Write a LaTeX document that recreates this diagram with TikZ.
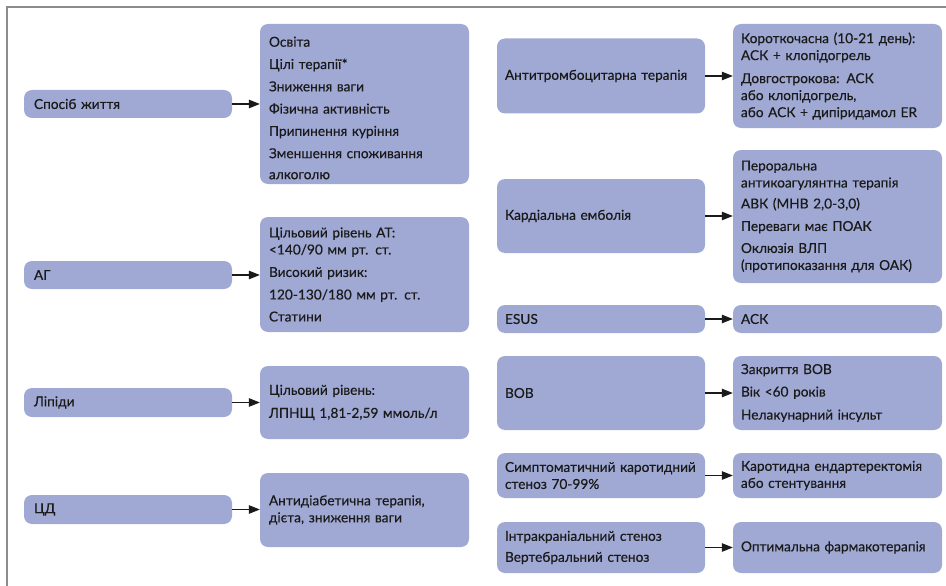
\documentclass[tikz,border=0pt]{standalone}
\usepackage{fontspec}
\setmainfont{Lato}
\newfontfamily\boxfont{Lato}[FakeBold=0.35]
\usetikzlibrary{arrows.meta}
\definecolor{boxfill}{HTML}{9FA9D4}
\definecolor{framegray}{HTML}{8C8C8C}
\definecolor{txt}{HTML}{1A1A1A}
\begin{document}
\begin{tikzpicture}[x=1pt,y=-1pt,
  box/.style={draw=none, fill=boxfill, rounded corners=8pt, inner xsep=8pt, inner ysep=0pt,
    text=txt, align=left, font=\boxfont\fontsize{13.7}{17}\selectfont},
  lbox/.style={box, minimum width=208pt, text width=192pt},
  rbox/.style={box, minimum width=209pt, text width=193pt},
  conn/.style={draw=txt, line width=1.1pt, -{Triangle[length=11pt,width=8.5pt]}}
]
\useasboundingbox (0,0) rectangle (946,586);
\draw[framegray, line width=2pt] (7,587) -- (7,7) -- (947,7);

% left column
\node[lbox, minimum height=28pt, inner xsep=10pt, text width=188pt] (l1) at (128,104) {Спосіб життя};
\node[rbox, minimum height=160pt, inner xsep=9pt, text width=191pt] (r1) at (364.5,104) {\rule{0pt}{18pt}Освіта\\[5.3pt]Цілі терапії*\\[5.3pt]Зниження ваги\\[5.3pt]Фізична активність\\[5.3pt]Припинення куріння\\[5.3pt]Зменшення споживання\\[4pt]алкоголю};
\node[lbox, minimum height=28pt, inner xsep=10pt, text width=188pt] (l2) at (128,275) {АГ};
\node[rbox, minimum height=115pt, inner xsep=9pt, text width=191pt] (r2) at (364.5,274.5) {Цільовий рівень АТ:\\ <140/90 мм рт. ст.\\[5.5pt]Високий ризик:\\[5.5pt]120-130/180 мм рт. ст.\\[5pt]Статини};
\node[lbox, minimum height=29pt, inner xsep=10pt, text width=188pt] (l3) at (128,402.5) {Ліпіди};
\node[rbox, minimum height=73pt, inner xsep=9pt, text width=191pt] (r3) at (364.5,402.5) {Цільовий рівень:\\[6pt]ЛПНЩ 1,81-2,59 ммоль/л};
\node[lbox, minimum height=29pt, inner xsep=10pt, text width=188pt] (l4) at (128,509.5) {ЦД};
\node[rbox, minimum height=74pt, inner xsep=9pt, text width=191pt] (r4) at (364.5,510) {Антидіабетична терапія,\\ дієта, зниження ваги};

% right column
\node[lbox, minimum height=75pt] (a1) at (601,76) {Антитромбоцитарна терапія};
\node[rbox, minimum height=104pt] (a2) at (837.5,76) {Короткочасна (10-21 день):\\ АСК + клопідогрель\\[6pt]Довгострокова: АСК\\ або клопідогрель,\\ або АСК + дипіридамол ER};
\node[lbox, minimum height=74pt] (b1) at (601,216) {Кардіальна емболія};
\node[rbox, minimum height=133pt] (b2) at (837.5,216.5) {Пероральна\\ антикоагулянтна терапія\\[4pt]АВК (МНВ 2,0-3,0)\\[5.5pt]Переваги має ПОАК\\[5pt]Оклюзія ВЛП\\ (протипоказання для ОАК)};
\node[lbox, minimum height=28pt] (c1) at (601,319) {ESUS};
\node[rbox, minimum height=28pt] (c2) at (837.5,319) {АСК};
\node[lbox, minimum height=74pt] (d1) at (601,393) {ВОВ};
\node[rbox, minimum height=74pt] (d2) at (837.5,393) {Закриття ВОВ\\[5.5pt]Вік <60 років\\[6pt]Нелакунарний інсульт};
\node[lbox, minimum height=45pt] (e1) at (601,475.5) {\mbox{Симптоматичний каротидний}\\ стеноз 70-99\%};
\node[rbox, minimum height=45pt] (e2) at (837.5,475.5) {\mbox{Каротидна ендартеректомія}\\ або стентування};
\node[lbox, minimum height=51pt] (f1) at (601,547.5) {Інтракраніальний стеноз\\[4pt]Вертебральний стеноз};
\node[rbox, minimum height=51pt] (f2) at (837.5,547.5) {\mbox{Оптимальна фармакотерапія}};

\foreach \a/\b in {l1/r1,l2/r2,l3/r3,l4/r4,a1/a2,b1/b2,c1/c2,d1/d2,e1/e2,f1/f2}
  \draw[conn] (\a.east) -- (\b.west |- \a.east);
\end{tikzpicture}
\end{document}
